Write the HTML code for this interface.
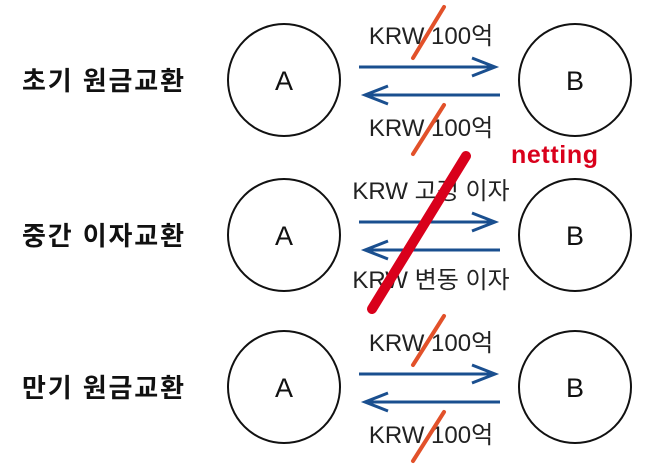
<html><body style="margin:0;width:658px;height:470px;background:#fff;overflow:hidden">
<svg width="658" height="470" xmlns="http://www.w3.org/2000/svg" font-family="Liberation Sans, Noto Sans CJK KR, sans-serif">
<defs>
<g id="row">
<circle cx="284" cy="0" r="56" fill="none" stroke="#111" stroke-width="2"/>
<circle cx="575" cy="0" r="56" fill="none" stroke="#111" stroke-width="2"/>
<text x="284" y="10" font-size="27" text-anchor="middle" fill="#111">A</text>
<text x="575" y="10" font-size="27" text-anchor="middle" fill="#111">B</text>
<g stroke="#1a4f8f" stroke-width="3" fill="none">
<line x1="359" y1="-13" x2="495" y2="-13"/><polyline points="472,-22 495,-13 472,-4"/>
<line x1="365" y1="15" x2="500" y2="15"/><polyline points="388,6 365,15 388,24"/>
</g>
</g>
</defs>
<g font-weight="bold" font-size="26" fill="#111">
<text x="22" y="90" textLength="162">초기 원금교환</text>
<text x="22" y="245" textLength="162">중간 이자교환</text>
<text x="22" y="397" textLength="162">만기 원금교환</text>
</g>
<use href="#row" y="80"/>
<use href="#row" y="235"/>
<use href="#row" y="387"/>
<g font-size="24" fill="#222" text-anchor="middle">
<text x="431" y="44">KRW 100억</text>
<text x="431" y="136">KRW 100억</text>
<text x="431" y="199">KRW 고정 이자</text>
<text x="431" y="288">KRW 변동 이자</text>
<text x="431" y="351">KRW 100억</text>
<text x="431" y="443">KRW 100억</text>
</g>
<g stroke="#e2512a" stroke-width="4" stroke-linecap="round">
<line x1="413" y1="58" x2="444" y2="7"/>
<line x1="413" y1="154" x2="444" y2="105"/>
<line x1="413" y1="365" x2="444" y2="316"/>
<line x1="413" y1="461" x2="444" y2="412"/>
</g>
<line x1="372" y1="309" x2="466" y2="156" stroke="#d9001b" stroke-width="10" stroke-linecap="round"/>
<text x="511" y="163" font-size="25" font-weight="bold" fill="#d9001b" textLength="87">netting</text>
</svg>
</body></html>
